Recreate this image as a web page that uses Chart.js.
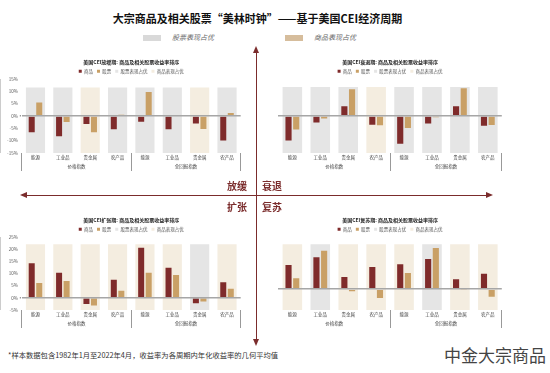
<!DOCTYPE html>
<html>
<head>
<meta charset="utf-8">
<script src="https://cdn.jsdelivr.net/npm/chart.js@4.4.0/dist/chart.umd.min.js"></script>
<style>
body{margin:0;width:550px;height:373px;position:relative;overflow:hidden;background:#fff;font-family:"Noto Sans CJK SC",sans-serif}
.abs{position:absolute}
.box{position:absolute}
.tri{position:absolute;width:0;height:0}
.q{position:absolute;font-weight:bold;font-size:10px;line-height:14px;color:#7b2c2c}
</style>
</head>
<body>
<div class="abs" style="left:0;top:11px;width:515px;text-align:center;font-weight:bold;font-size:11px;line-height:14px;color:#111">大宗商品及相关股票“美林时钟”——基于美国CEI经济周期</div>

<div class="box" style="left:143px;top:34.5px;width:18px;height:6px;background:#d9d9d9"></div>
<div class="abs" style="left:172px;top:32px;font-size:7px;line-height:11px;font-style:italic;color:#666">股票表现占优</div>
<div class="box" style="left:285px;top:34.5px;width:18px;height:6px;background:#d6bd9c"></div>
<div class="abs" style="left:314px;top:32px;font-size:7px;line-height:11px;font-style:italic;color:#666">商品表现占优</div>

<div class="abs" style="left:0;top:52px;width:250px;height:121px"><canvas id="slow"></canvas></div>
<div class="abs" style="left:275px;top:52px;width:235px;height:121px"><canvas id="recess"></canvas></div>
<div class="abs" style="left:0;top:210px;width:250px;height:120px"><canvas id="expand"></canvas></div>
<div class="abs" style="left:275px;top:210px;width:235px;height:120px"><canvas id="recover"></canvas></div>

<!-- clock axes -->
<div class="box" style="left:255.75px;top:52px;width:1.5px;height:288px;background:#7b2c2c"></div>
<div class="tri" style="left:253px;top:46px;border-left:3.5px solid transparent;border-right:3.5px solid transparent;border-bottom:7px solid #7b2c2c"></div>
<div class="tri" style="left:253px;top:339px;border-left:3.5px solid transparent;border-right:3.5px solid transparent;border-top:7px solid #7b2c2c"></div>
<div class="box" style="left:26px;top:194.75px;width:461px;height:1.5px;background:#7b2c2c"></div>
<div class="tri" style="left:20px;top:192px;border-top:3.5px solid transparent;border-bottom:3.5px solid transparent;border-right:7px solid #7b2c2c"></div>
<div class="tri" style="left:486px;top:192px;border-top:3.5px solid transparent;border-bottom:3.5px solid transparent;border-left:7px solid #7b2c2c"></div>

<div class="q" style="left:197px;top:179px;width:50px;text-align:right">放缓</div>
<div class="q" style="left:262px;top:179px">衰退</div>
<div class="q" style="left:197px;top:200px;width:50px;text-align:right">扩张</div>
<div class="q" style="left:262px;top:200px">复苏</div>

<div class="abs" style="left:8px;top:350px;font-size:7.3px;line-height:10px;color:#333">*样本数据包含1982年1月至2022年4月，收益率为各周期内年化收益率的几何平均值</div>
<div class="abs" style="left:444px;top:344px;font-size:17px;line-height:22px;color:#444">中金大宗商品</div>

<script>
const categories = ['能源', '工业品', '贵金属', '农产品', '能源', '工业品', '贵金属', '农产品'];
const groups = ['价格指数', '全回报指数'];

// 放缓期
const slowComm = [-6.6, -8.2, -3.2, -5.4, -2.3, -5.4, -3.0, -9.9];
const slowStock = [5.5, -2.4, -6.6, 0.5, 9.7, 0.4, -5.3, 1.2];
const slowLead = ['S', 'S', 'C', 'S', 'S', 'S', 'C', 'S'];
// 衰退期
const recessComm = [-9.9, -2.6, 4.0, -3.5, -11.2, -3.0, 4.0, -4.0];
const recessStock = [-5.5, -1.0, 10.8, -3.8, -4.9, -0.5, 11.2, -3.6];
const recessLead = ['S', 'S', 'S', 'C', 'S', 'S', 'S', 'S'];
// 扩张期
const expandComm = [14.2, 10.3, -2.5, 7.4, 20.6, 12.4, -2.2, 6.4];
const expandStock = [6.1, 6.9, -3.2, 2.9, 10.3, 9.4, -1.5, 3.75];
const expandLead = ['C', 'C', 'C', 'C', 'C', 'C', 'S', 'C'];
// 复苏期
const recoverComm = [11.6, 15.3, 5.8, 10.6, 11.9, 14.5, 4.8, 7.4];
const recoverStock = [5.2, 18.4, -1.0, -4.2, 7.7, 19.7, -0.3, -3.7];
const recoverLead = ['C', 'S', 'C', 'C', 'C', 'S', 'C', 'C'];

// y ranges and shaded band extent, in %
const slowRange = [-15, 15], slowBand = [-15, 11.6];
const recessRange = [-15, 15], recessBand = [-15, 11.8];
const expandRange = [-5, 25], expandBand = [-5, 22];
const recoverRange = [-10, 25], recoverBand = [-10, 21.5];

const RED = '#7f2b2b', TAN = '#c9a066', GRAY = '#e5e5e5', BEIGE = '#f4ede0', SEP = '#999';

function quadChart(id, phase, comm, stock, lead, range, band, showY) {
    const small = {size: 4.5, family: 'Noto Sans CJK SC'};
    return new Chart(document.getElementById(id), {
        type: 'bar',
        data: {
            labels: categories,
            datasets: [
                {label: '商品', data: comm, backgroundColor: RED, order: 1, categoryPercentage: 0.55, barPercentage: 0.8},
                {label: '股票', data: stock, backgroundColor: TAN, order: 1, categoryPercentage: 0.55, barPercentage: 0.8},
                {label: '股票表现占优', data: lead.map(l => l === 'S' ? band : null), backgroundColor: GRAY,
                    order: 2, grouped: false, categoryPercentage: 0.7, barPercentage: 1},
                {label: '商品表现占优', data: lead.map(l => l === 'C' ? band : null), backgroundColor: BEIGE,
                    order: 2, grouped: false, categoryPercentage: 0.7, barPercentage: 1}
            ]
        },
        options: {
            responsive: true,
            maintainAspectRatio: false,
            animation: false,
            layout: {
                padding: showY ? {left: 3.8, right: 9.3, top: 5, bottom: 2} : {left: 3.4, right: 8.2, top: 5, bottom: 2}
            },
            plugins: {
                title: {
                    display: true,
                    fullSize: false,
                    text: '美国CEI' + phase + ': 商品及相关股票收益率排序',
                    color: '#222',
                    font: {size: 5, weight: 'bold', family: 'Noto Sans CJK SC'},
                    padding: {top: 2, bottom: 0}
                },
                legend: {
                    fullSize: false,
                    maxHeight: 14,
                    labels: {boxWidth: 3, boxHeight: 3, padding: 4, color: '#555', font: small}
                },
                tooltip: {enabled: false}
            },
            scales: {
                x: {
                    offset: true,
                    afterFit: s => { s.height = 9; },
                    grid: {
                        offset: true, drawOnChartArea: false, tickLength: 9, lineWidth: 1,
                        tickColor: ctx => (ctx.type !== 'tick' || ctx.index === 4 || (ctx.index === 0 && showY)) ? SEP : 'transparent'
                    },
                    border: {display: false},
                    ticks: {autoSkip: false, maxRotation: 0, padding: -7, color: '#444', font: small}
                },
                x2: {
                    type: 'category',
                    labels: groups,
                    position: 'bottom',
                    offset: true,
                    afterFit: s => { s.height = 9; },
                    grid: {
                        offset: true, drawOnChartArea: false, tickLength: 9, lineWidth: 1,
                        tickColor: ctx => (ctx.type === 'tick' && ctx.index === 0 && !showY) ? 'transparent' : SEP
                    },
                    border: {display: false},
                    ticks: {maxRotation: 0, padding: -7, color: '#444', font: small}
                },
                y: {
                    min: range[0],
                    max: range[1],
                    afterFit: s => { s.width = showY ? 18 : 0; },
                    ticks: {
                        display: showY, stepSize: 5, padding: 2, color: '#555', font: small,
                        callback: v => v + '%'
                    },
                    grid: {
                        z: 1,
                        drawTicks: showY,
                        tickLength: 2,
                        tickColor: SEP,
                        color: ctx => ctx.tick && ctx.tick.value === 0 ? '#a6a6a6' : 'transparent',
                        lineWidth: ctx => ctx.tick && ctx.tick.value === 0 ? 1.5 : 0
                    },
                    border: {display: showY, color: SEP}
                }
            }
        }
    });
}

quadChart('slow', '放缓期', slowComm, slowStock, slowLead, slowRange, slowBand, true);
quadChart('recess', '衰退期', recessComm, recessStock, recessLead, recessRange, recessBand, false);
quadChart('expand', '扩张期', expandComm, expandStock, expandLead, expandRange, expandBand, true);
quadChart('recover', '复苏期', recoverComm, recoverStock, recoverLead, recoverRange, recoverBand, false);
</script>
</body>
</html>
